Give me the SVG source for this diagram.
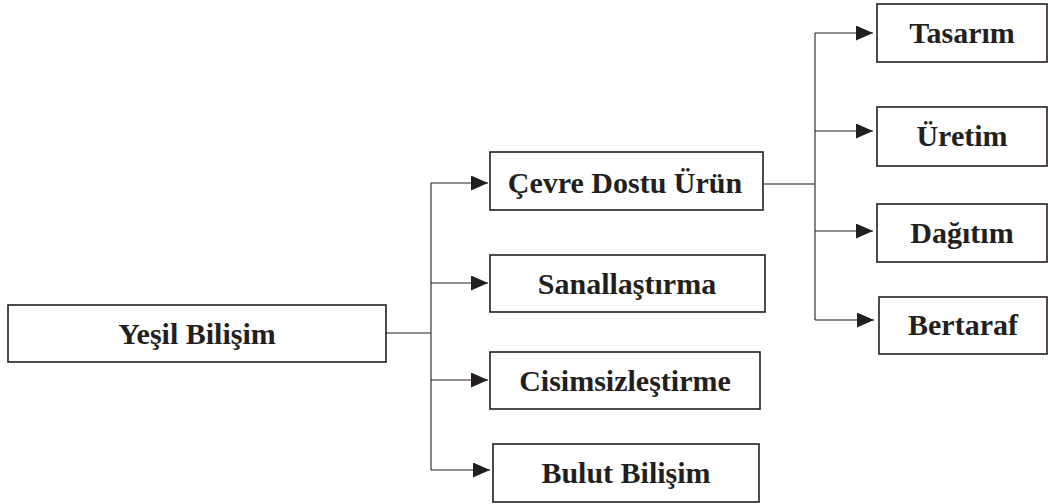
<svg xmlns="http://www.w3.org/2000/svg" width="1048" height="504" viewBox="0 0 1048 504">
<style>
.box{fill:#fff;stroke:#231f20;stroke-width:1.6}
.lbl{font-family:"Liberation Serif","Times New Roman",serif;font-weight:bold;font-size:30px;fill:#231f20;text-anchor:middle}
.ln{fill:none;stroke:#231f20;stroke-width:1.1}
</style>
<defs>
<marker id="ah" markerUnits="userSpaceOnUse" markerWidth="18" markerHeight="16" refX="17" refY="7.5" orient="auto">
<path d="M0,0 L17,7.5 L0,15 z" fill="#231f20"/>
</marker>
</defs>
<rect width="1048" height="504" fill="#fff"/>
<g id="connectors">
<path class="ln" d="M386,333 H431"/>
<path class="ln" d="M431,183 V470"/>
<path class="ln" d="M431,183 H488" marker-end="url(#ah)"/>
<path class="ln" d="M431,283 H488" marker-end="url(#ah)"/>
<path class="ln" d="M431,380 H488" marker-end="url(#ah)"/>
<path class="ln" d="M431,470 H490" marker-end="url(#ah)"/>
<path class="ln" d="M763,184 H815"/>
<path class="ln" d="M815,33 V320"/>
<path class="ln" d="M815,33 H873" marker-end="url(#ah)"/>
<path class="ln" d="M815,131 H873" marker-end="url(#ah)"/>
<path class="ln" d="M815,231 H873" marker-end="url(#ah)"/>
<path class="ln" d="M815,320 H874" marker-end="url(#ah)"/>
</g>
<g id="yesil-bilisim"><rect class="box" x="8" y="305" width="378" height="57"/><text class="lbl" x="197" y="344">Yeşil Bilişim</text></g>
<g id="cevre-dostu-urun"><rect class="box" x="490" y="152" width="273" height="58"/><text class="lbl" x="625" y="193">Çevre Dostu Ürün</text></g>
<g id="sanallastirma"><rect class="box" x="490" y="255" width="275" height="57"/><text class="lbl" x="627" y="294">Sanallaştırma</text></g>
<g id="cisimsizlestirme"><rect class="box" x="490" y="352" width="270" height="57"/><text class="lbl" x="625" y="391">Cisimsizleştirme</text></g>
<g id="bulut-bilisim"><rect class="box" x="493" y="444" width="266" height="58"/><text class="lbl" x="626" y="483">Bulut Bilişim</text></g>
<g id="tasarim"><rect class="box" x="877" y="4" width="170" height="58"/><text class="lbl" x="962" y="43">Tasarım</text></g>
<g id="uretim"><rect class="box" x="877" y="107" width="170" height="59"/><text class="lbl" x="962" y="146">Üretim</text></g>
<g id="dagitim"><rect class="box" x="877" y="204" width="170" height="58"/><text class="lbl" x="962" y="243">Dağıtım</text></g>
<g id="bertaraf"><rect class="box" x="879" y="297" width="168" height="57"/><text class="lbl" x="963" y="335">Bertaraf</text></g>
</svg>
